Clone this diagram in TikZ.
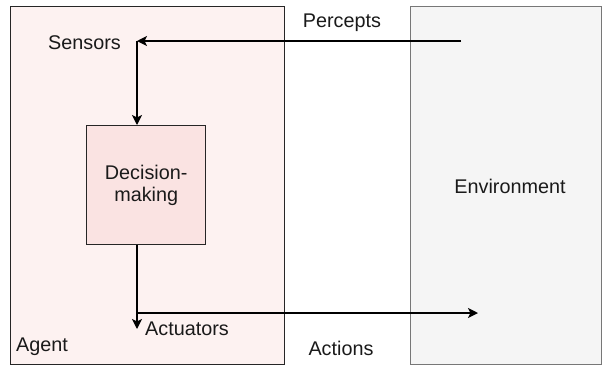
\documentclass[tikz,border=0pt]{standalone}
\usepackage{fontspec}
\setmainfont{Liberation Sans}
\usetikzlibrary{arrows.meta}
\definecolor{agentfill}{HTML}{FDF2F1}
\definecolor{decfill}{HTML}{FAE3E2}
\definecolor{envfill}{HTML}{F5F5F5}
\definecolor{envline}{HTML}{777777}
\definecolor{txt}{HTML}{1A1A1A}
\begin{document}
\begin{tikzpicture}[x=1pt,y=-1pt,
  lbl/.style={font=\fontsize{19.8}{22}\selectfont,text=txt,inner sep=0pt},
  flow/.style={line width=1.6pt,-{Stealth[length=10pt,width=10pt,inset=2.5pt]}}]
\useasboundingbox (0,0) rectangle (602,365);
% the two regions
\node[draw=black!85,line width=1.4pt,fill=agentfill,minimum width=274pt,minimum height=358pt,anchor=north west,inner sep=0pt] (agent) at (9.5,5.5) {};
\node[draw=envline,line width=1.2pt,fill=envfill,minimum width=191pt,minimum height=358pt,anchor=north west,inner sep=0pt] (env) at (409.5,5.5) {};
% inside the agent
\node[draw=black!85,line width=1.4pt,fill=decfill,minimum width=119pt,minimum height=119pt,anchor=north west,inner sep=0pt,lbl,align=center] (dec) at (86,125) {Decision-\\making};
\node[lbl,anchor=west] (sensors) at (48,43) {Sensors};
\node[lbl,anchor=west] (actuators) at (145,329) {Actuators};
\node[lbl,anchor=west] (agentlbl) at (16,347) {Agent};
% labels of the environment side
\node[lbl] (percepts) at (342,23) {Percepts};
\node[lbl] (actions) at (341,348) {Actions};
\node[lbl] (envlbl) at (510,186) {Environment};
% connectors
\coordinate (pin) at (461,41);
\coordinate (sense) at (137,41);
\coordinate (act) at (137,313);
\coordinate (pout) at (478,313);
\coordinate (acttip) at (137,329);
\draw[flow] (pin) -- (sense);
\draw[flow] (sense) -- (dec.north -| sense);
\draw[flow] (dec.south -| act) -- (acttip);
\draw[flow] (act) -- (pout);
\end{tikzpicture}
\end{document}
